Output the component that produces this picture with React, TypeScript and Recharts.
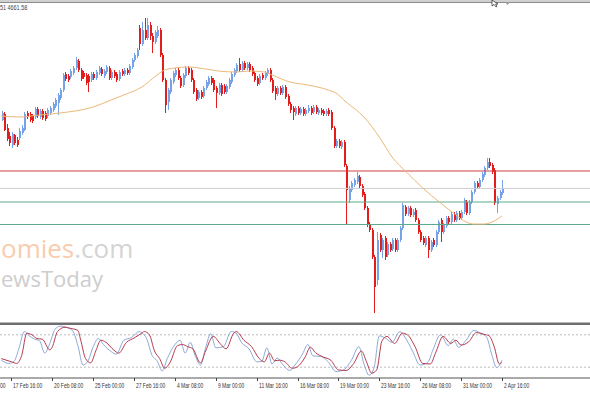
import React from 'react';
import { ComposedChart, Bar, Line, XAxis, YAxis, ReferenceLine } from 'recharts';

// H4 candles, [open, high, low, close]
const candles: [number, number, number, number][] = [
  [4730, 4739, 4729, 4737], [4736, 4738, 4719, 4720], [4722, 4726, 4709, 4711], [4714, 4718, 4704, 4707],
  [4705, 4718, 4702, 4716], [4715, 4716, 4705, 4707], [4710, 4713, 4703, 4705], [4712, 4722, 4710, 4719],
  [4717, 4725, 4715, 4722], [4720, 4738, 4719, 4736], [4737, 4739, 4731, 4733], [4736, 4738, 4728, 4730],
  [4734, 4736, 4727, 4729], [4733, 4743, 4731, 4741], [4741, 4743, 4732, 4734], [4733, 4741, 4731, 4739],
  [4739, 4741, 4730, 4732], [4737, 4739, 4729, 4731], [4734, 4742, 4732, 4740], [4737, 4744, 4735, 4742],
  [4740, 4748, 4738, 4746], [4744, 4752, 4742, 4750], [4747, 4757, 4735, 4755], [4752, 4762, 4750, 4760],
  [4760, 4777, 4758, 4775], [4776, 4778, 4769, 4771], [4774, 4776, 4768, 4770], [4773, 4781, 4771, 4779],
  [4777, 4784, 4775, 4782], [4782, 4793, 4780, 4790], [4789, 4791, 4778, 4780], [4780, 4782, 4769, 4771],
  [4777, 4779, 4771, 4773], [4775, 4777, 4765, 4767], [4774, 4776, 4758, 4768], [4770, 4778, 4768, 4776],
  [4776, 4778, 4770, 4772], [4772, 4780, 4770, 4778], [4777, 4784, 4775, 4782], [4781, 4783, 4774, 4776],
  [4774, 4781, 4772, 4779], [4778, 4785, 4776, 4783], [4782, 4784, 4770, 4772], [4772, 4780, 4770, 4778],
  [4778, 4780, 4772, 4774], [4776, 4778, 4768, 4770], [4771, 4780, 4769, 4778], [4779, 4781, 4774, 4776],
  [4776, 4782, 4774, 4780], [4780, 4782, 4775, 4777], [4777, 4786, 4775, 4784], [4783, 4792, 4781, 4790],
  [4790, 4797, 4788, 4795], [4794, 4802, 4792, 4800], [4822, 4825, 4800, 4806], [4806, 4828, 4804, 4820],
  [4820, 4832, 4810, 4812], [4812, 4832, 4810, 4825], [4825, 4828, 4810, 4814], [4814, 4817, 4797, 4808],
  [4808, 4820, 4806, 4818], [4814, 4824, 4812, 4820], [4820, 4822, 4793, 4795], [4795, 4797, 4768, 4770],
  [4770, 4772, 4737, 4745], [4748, 4762, 4740, 4760], [4758, 4772, 4756, 4770], [4768, 4779, 4766, 4777],
  [4775, 4782, 4773, 4780], [4780, 4782, 4770, 4772], [4772, 4774, 4762, 4764], [4765, 4777, 4763, 4775],
  [4774, 4784, 4772, 4782], [4782, 4784, 4775, 4777], [4780, 4782, 4768, 4770], [4770, 4772, 4756, 4758],
  [4760, 4762, 4749, 4751], [4752, 4760, 4750, 4758], [4758, 4760, 4751, 4753], [4754, 4764, 4752, 4762],
  [4762, 4770, 4760, 4768], [4766, 4774, 4764, 4772], [4772, 4774, 4765, 4767], [4770, 4772, 4758, 4760],
  [4762, 4764, 4742, 4757], [4757, 4767, 4755, 4765], [4765, 4767, 4754, 4756], [4764, 4766, 4756, 4758],
  [4758, 4766, 4756, 4764], [4763, 4772, 4761, 4770], [4768, 4778, 4766, 4776], [4775, 4782, 4773, 4780],
  [4779, 4787, 4777, 4785], [4786, 4792, 4778, 4780], [4780, 4789, 4778, 4787], [4787, 4789, 4780, 4782],
  [4782, 4788, 4780, 4786], [4786, 4788, 4778, 4780], [4782, 4784, 4774, 4776], [4777, 4779, 4768, 4770],
  [4772, 4774, 4764, 4766], [4767, 4776, 4765, 4774], [4775, 4777, 4770, 4772], [4772, 4779, 4770, 4777],
  [4776, 4782, 4774, 4780], [4780, 4782, 4768, 4770], [4770, 4772, 4757, 4759], [4762, 4764, 4750, 4756],
  [4756, 4764, 4754, 4762], [4762, 4764, 4755, 4757], [4757, 4765, 4755, 4763], [4763, 4765, 4751, 4753],
  [4754, 4756, 4744, 4746], [4746, 4748, 4737, 4740], [4742, 4744, 4730, 4738], [4736, 4744, 4734, 4742],
  [4742, 4744, 4735, 4737], [4737, 4743, 4735, 4741], [4741, 4743, 4734, 4736], [4736, 4742, 4734, 4740],
  [4739, 4745, 4737, 4742], [4742, 4744, 4735, 4737], [4738, 4745, 4736, 4743], [4743, 4745, 4736, 4738],
  [4737, 4742, 4735, 4740], [4740, 4742, 4735, 4737], [4739, 4741, 4734, 4736], [4736, 4741, 4734, 4739],
  [4740, 4742, 4734, 4736], [4738, 4740, 4720, 4722], [4722, 4724, 4702, 4704], [4704, 4711, 4702, 4709],
  [4709, 4711, 4702, 4704], [4703, 4710, 4701, 4708], [4708, 4710, 4683, 4685], [4684, 4686, 4625, 4660],
  [4650, 4664, 4647, 4662], [4660, 4669, 4658, 4667], [4665, 4672, 4663, 4670], [4668, 4678, 4666, 4674],
  [4673, 4675, 4662, 4664], [4664, 4666, 4653, 4655], [4656, 4658, 4640, 4642], [4642, 4644, 4623, 4625],
  [4626, 4628, 4618, 4620], [4620, 4622, 4591, 4593], [4593, 4595, 4537, 4563], [4570, 4618, 4565, 4610],
  [4615, 4617, 4598, 4600], [4600, 4612, 4592, 4610], [4612, 4614, 4590, 4593], [4595, 4608, 4593, 4606],
  [4606, 4608, 4598, 4600], [4601, 4612, 4599, 4610], [4610, 4612, 4598, 4600], [4600, 4612, 4598, 4610],
  [4610, 4624, 4608, 4622], [4622, 4647, 4620, 4645], [4643, 4645, 4634, 4636], [4636, 4644, 4634, 4642],
  [4642, 4644, 4633, 4635], [4635, 4641, 4633, 4638], [4640, 4642, 4628, 4630], [4630, 4632, 4616, 4618],
  [4618, 4620, 4608, 4610], [4612, 4614, 4605, 4607], [4605, 4614, 4603, 4612], [4612, 4614, 4592, 4600],
  [4600, 4610, 4598, 4608], [4610, 4612, 4603, 4605], [4605, 4620, 4603, 4618], [4618, 4630, 4616, 4628],
  [4630, 4632, 4608, 4618], [4618, 4627, 4616, 4625], [4624, 4634, 4622, 4632], [4632, 4634, 4626, 4628],
  [4628, 4638, 4626, 4636], [4636, 4638, 4628, 4630], [4630, 4639, 4628, 4637], [4637, 4639, 4630, 4632],
  [4632, 4640, 4630, 4638], [4638, 4652, 4636, 4650], [4648, 4650, 4635, 4637], [4637, 4650, 4635, 4648],
  [4648, 4660, 4646, 4658], [4658, 4669, 4656, 4667], [4667, 4669, 4661, 4663], [4663, 4672, 4661, 4670],
  [4670, 4678, 4668, 4676], [4675, 4684, 4673, 4682], [4682, 4692, 4680, 4688], [4688, 4692, 4682, 4684],
  [4685, 4687, 4676, 4678], [4680, 4682, 4645, 4647], [4646, 4654, 4637, 4652], [4652, 4660, 4650, 4658],
  [4657, 4670, 4655, 4662],
];

// empty bars kept on the right (chart shift)
const emptyBars = 34;

// moving average, [bar, value]
const maPoints: [number, number][] = [
  [0, 4734], [7, 4733], [15, 4735], [23, 4737], [36, 4743], [43, 4750], [48, 4755], [55, 4763],
  [61, 4775], [64, 4780], [68, 4782], [73, 4783], [80, 4781], [85, 4779], [92, 4778], [97, 4779],
  [103, 4778], [106, 4775], [113, 4768], [120, 4765], [128, 4760], [131, 4757], [135, 4748], [142, 4733],
  [148, 4713], [153, 4693], [159, 4677], [165, 4662], [172, 4647], [178, 4635], [182, 4628], [185, 4626],
  [189, 4626], [193, 4629], [196, 4634],
];

// stochastic main (%K) and signal (%D), [bar, value]
const stochK: [number, number][] = [
  [0, 33], [3, 27], [5, 31], [7, 56], [9, 86], [11, 78], [13, 72], [15, 69], [17, 46], [19, 64],
  [21, 90], [23, 96], [26, 93], [28, 87], [30, 60], [32, 24], [34, 32], [36, 58], [38, 73], [40, 62],
  [43, 49], [45, 44], [48, 70], [51, 75], [54, 86], [55, 84], [57, 72], [59, 42], [61, 32], [63, 13],
  [65, 36], [68, 62], [70, 70], [72, 46], [74, 66], [76, 40], [78, 24], [80, 56], [82, 82], [84, 56],
  [87, 58], [90, 86], [92, 83], [94, 66], [97, 54], [100, 30], [102, 31], [104, 56], [106, 26], [108, 37],
  [110, 26], [113, 14], [115, 24], [118, 45], [120, 62], [122, 41], [125, 40], [128, 30], [131, 12], [134, 15],
  [137, 32], [140, 58], [142, 26], [144, 5], [146, 20], [148, 78], [150, 75], [153, 66], [156, 86], [158, 76],
  [161, 50], [164, 24], [167, 29], [169, 52], [172, 80], [175, 60], [177, 72], [179, 57], [182, 70], [185, 88],
  [188, 82], [190, 76], [192, 44], [194, 19], [196, 33],
];
const stochD: [number, number][] = [
  [0, 36], [4, 30], [6, 27], [8, 42], [10, 83], [12, 80], [14, 73], [16, 72], [19, 52], [20, 58],
  [22, 86], [25, 94], [27, 92], [30, 88], [31, 72], [33, 36], [35, 28], [37, 50], [39, 70], [41, 66],
  [44, 52], [46, 46], [49, 66], [52, 74], [55, 83], [56, 86], [58, 80], [60, 50], [62, 36], [64, 18],
  [66, 28], [69, 60], [71, 62], [73, 58], [75, 54], [78, 28], [80, 50], [83, 77], [86, 62], [88, 54],
  [91, 83], [92, 86], [95, 70], [98, 58], [101, 36], [103, 30], [105, 46], [107, 32], [109, 33], [111, 30],
  [114, 18], [116, 21], [119, 39], [121, 57], [123, 47], [126, 39], [129, 33], [132, 15], [135, 14], [138, 27],
  [141, 50], [143, 30], [145, 9], [147, 15], [149, 68], [151, 77], [154, 64], [157, 83], [159, 80], [162, 58],
  [165, 27], [168, 26], [170, 46], [173, 77], [176, 64], [178, 70], [180, 61], [183, 67], [186, 84], [189, 81],
  [191, 78], [193, 58], [195, 26], [196, 29],
];

const tickBars = [4, 20, 36, 52, 68, 84, 100, 116, 132, 148, 164, 180, 196];
const tickLabels = [
  '17 Feb 16:00', '20 Feb 08:00', '25 Feb 00:00', '27 Feb 16:00', '4 Mar 08:00', '9 Mar 00:00',
  '11 Mar 16:00', '16 Mar 08:00', '19 Mar 00:00', '23 Mar 16:00', '26 Mar 08:00', '31 Mar 00:00', '2 Apr 16:00',
];

const resistance = 4679;
const bidPrice = 4661.58;
const support1 = 4648;
const support2 = 4625.5;

const BULL = '#76a2e8';
const BEAR = '#e31c1c';

type Row = { idx: number; o?: number; h?: number; l?: number; c?: number; ma?: number | null; k?: number | null; d?: number | null };

const rows: Row[] = [];
for (let i = 0; i < candles.length + emptyBars; i++) {
  const cd = candles[i];
  rows.push(cd ? { idx: i, o: cd[0], h: cd[1], l: cd[2], c: cd[3], ma: null, k: null, d: null } : { idx: i, ma: null, k: null, d: null });
}
maPoints.forEach(([i, v]) => { rows[i].ma = v; });
stochK.forEach(([i, v]) => { rows[i].k = v; });
stochD.forEach(([i, v]) => { rows[i].d = v; });

const renderCandle = (props: any) => {
  const { x, y, width, height, payload } = props;
  if (!payload || payload.o == null || height == null) return <g />;
  const { o, h, l, c } = payload;
  const top = Math.min(y, y + height);
  const hPx = Math.abs(height);
  const yOf = (p: number) => top + ((h - p) / (h - l)) * hPx;
  const px = Math.round(x + width / 2);
  const color = c >= o ? BULL : BEAR;
  const bTop = yOf(Math.max(o, c));
  const bBot = yOf(Math.min(o, c));
  return (
    <g>
      <line x1={px + 0.5} x2={px + 0.5} y1={top} y2={top + hPx} stroke={color} strokeWidth={1} />
      <rect x={px} y={bTop} width={2} height={Math.max(1, bBot - bTop)} fill={color} />
    </g>
  );
};

const axisFont = { fontFamily: '"Liberation Sans", Arial, sans-serif', fontSize: 7.5, fill: '#333' };

const AxisTick = (props: any) => {
  const { x, y, payload } = props;
  const n = tickBars.indexOf(payload.value);
  if (n < 0) return <g />;
  const tx = Math.round(x) + 0.5;
  return (
    <g>
      <line x1={tx} x2={tx} y1={y} y2={y + 3} stroke="#444" />
      <text transform={`translate(${tx + 1.5},${y + 10}) scale(0.66,1)`} {...axisFont}>
        {tickLabels[n]}
      </text>
    </g>
  );
};

export default function App() {
  return (
    <div style={{ position: 'absolute', left: 0, top: 0, width: 590, height: 393, background: '#fff', overflow: 'hidden' }}>
      <svg width={590} height={393} style={{ position: 'absolute', left: 0, top: 0 }}>
        <text x={1} y={258} fontFamily='"Open Sans", sans-serif' fontSize={26}>
          <tspan fill="#f8cdae">omies</tspan>
          <tspan fill="#d4d4d4">.com</tspan>
        </text>
        <text x={1} y={287} fontFamily='"Open Sans", sans-serif' fontSize={22} fill="#cdcdcd">
          ewsToday
        </text>
      </svg>

      <div style={{ position: 'absolute', left: 0, top: 0 }}>
        <ComposedChart width={590} height={322} data={rows} margin={{ top: 0, right: 0, bottom: 0, left: 0 }} barCategoryGap={0}>
          <XAxis dataKey="idx" type="category" scale="band" hide />
          <YAxis hide domain={[4528, 4850]} allowDataOverflow />
          <ReferenceLine y={resistance} stroke="#cf4040" />
          <ReferenceLine y={bidPrice} stroke="#cdcdcd" />
          <ReferenceLine y={support1} stroke="#5faa8c" />
          <ReferenceLine y={support2} stroke="#5faa8c" />
          <Bar
            dataKey={(r: Row) => (r.o == null ? null : [r.l, r.h])}
            shape={renderCandle}
            isAnimationActive={false}
          />
          <Line dataKey="ma" type="monotone" connectNulls stroke="#ebb878" strokeWidth={1} dot={false} activeDot={false} isAnimationActive={false} />
        </ComposedChart>
      </div>

      <div style={{ position: 'absolute', left: 0, top: 322 }}>
        <ComposedChart width={590} height={71} data={rows} margin={{ top: 2, right: 0, bottom: 0, left: 0 }}>
          <XAxis
            dataKey="idx"
            type="category"
            scale="band"
            height={15}
            ticks={tickBars}
            interval={0}
            tickLine={false}
            tickSize={0}
            tickMargin={0}
            axisLine={{ stroke: '#555' }}
            tick={<AxisTick />}
          />
          <YAxis hide domain={[0, 100]} />
          <ReferenceLine y={80} stroke="#bdbdbd" strokeDasharray="2 2" />
          <ReferenceLine y={20} stroke="#bdbdbd" strokeDasharray="2 2" />
          <Line dataKey="k" type="monotone" connectNulls stroke="#8eaad8" strokeWidth={1} dot={false} activeDot={false} isAnimationActive={false} />
          <Line dataKey="d" type="monotone" connectNulls stroke="#b53c4c" strokeWidth={1} dot={false} activeDot={false} isAnimationActive={false} />
        </ComposedChart>
      </div>

      <svg width={590} height={393} style={{ position: 'absolute', left: 0, top: 0, pointerEvents: 'none' }}>
        <rect x={0} y={0} width={590} height={2} fill="#d0d0d0" />
        <line x1={0} x2={590} y1={2.5} y2={2.5} stroke="#8c8c8c" />
        <text transform="translate(0,9.5) scale(0.68,1)" {...axisFont} fontSize={8} fill="#444">51 4661.58</text>
        <rect x={0} y={322} width={590} height={1} fill="#b8b8b8" />
        <rect x={0} y={323} width={590} height={2} fill="#6e6e6e" />
        <text transform="translate(0,388) scale(0.66,1)" {...axisFont}>00</text>
        <path d="M492,0 L492,6 L494,4.5 L496,7 L497,6.4 L495.6,4 L498,4 Z" fill="#fff" stroke="#222" strokeWidth={0.7} />
        <path d="M505,2 L510,2 L507.5,5 Z" fill="#999" />
      </svg>
    </div>
  );
}
